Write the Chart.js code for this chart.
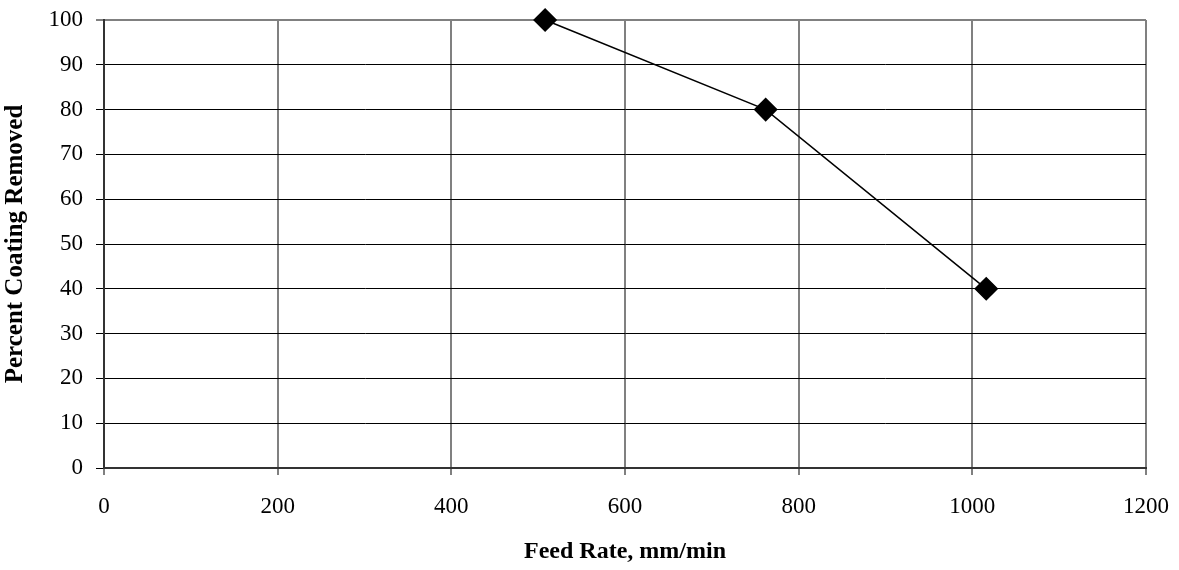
<!DOCTYPE html>
<html>
<head>
<meta charset="utf-8">
<title>Feed Rate vs Percent Coating Removed</title>
<script src="https://cdn.jsdelivr.net/npm/chart.js@4/dist/chart.umd.min.js"></script>
<style>
  html, body { margin: 0; padding: 0; background: #fff; }
  #wrap { width: 1179px; height: 570px; }
</style>
</head>
<body>
<div id="wrap"><canvas id="feedChart"></canvas></div>
<script>
// data
const feedRate = [508, 762, 1016];        // mm/min
const pctRemoved = [100, 80, 40];         // %
const xTicks = [0, 200, 400, 600, 800, 1000, 1200];
const yTicks = [0, 10, 20, 30, 40, 50, 60, 70, 80, 90, 100];

const FONT = '"Liberation Serif", "Times New Roman", serif';

const ctx = document.getElementById('feedChart').getContext('2d');
new Chart(ctx, {
    type: 'scatter',
    data: {
        datasets: [{
            label: 'Percent Coating Removed',
            data: feedRate.map((x, i) => ({ x: x, y: pctRemoved[i] })),
            showLine: true,
            borderColor: '#000',
            borderWidth: 1.5,
            backgroundColor: '#000',
            pointStyle: 'rectRot',
            pointRadius: 11,
            pointHoverRadius: 11,
            clip: false
        }]
    },
    options: {
        responsive: true,
        maintainAspectRatio: false,
        animation: false,
        layout: { padding: { top: 20, right: 33, left: 0, bottom: 0 } },
        plugins: {
            legend: { display: false },
            tooltip: { enabled: false }
        },
        scales: {
            x: {
                type: 'linear',
                min: 0,
                max: 1200,
                afterBuildTicks: s => { s.ticks = xTicks.map(v => ({ value: v })); },
                afterFit: s => { s.height = 102; s.paddingLeft = 0; s.paddingRight = 0; },
                ticks: {
                    color: '#000',
                    padding: 18,
                    font: { family: FONT, size: 23 },
                    callback: v => String(v)
                },
                grid: { color: '#808080', lineWidth: 2, tickLength: 7 },
                border: { color: '#333', width: 2 },
                title: {
                    display: true,
                    text: 'Feed Rate, mm/min',
                    color: '#000',
                    font: { family: FONT, size: 24, weight: 'bold' },
                    padding: { top: 0, bottom: 4 }
                }
            },
            y: {
                type: 'linear',
                min: 0,
                max: 100,
                afterBuildTicks: s => { s.ticks = yTicks.map(v => ({ value: v })); },
                afterFit: s => { s.width = 104; s.paddingTop = 0; s.paddingBottom = 0; },
                ticks: {
                    color: '#000',
                    padding: 13,
                    font: { family: FONT, size: 23 },
                    callback: v => String(v)
                },
                grid: {
                    color: c => (c.tick && c.tick.value === 100 ? '#808080' : '#000'),
                    lineWidth: c => (c.tick && c.tick.value === 100 ? 2 : 1),
                    tickLength: 8
                },
                border: { color: '#333', width: 2 },
                title: {
                    display: true,
                    text: 'Percent Coating Removed',
                    color: '#000',
                    font: { family: FONT, size: 25, weight: 'bold' },
                    padding: { top: 1, bottom: 0 }
                }
            }
        }
    }
});
</script>
</body>
</html>
